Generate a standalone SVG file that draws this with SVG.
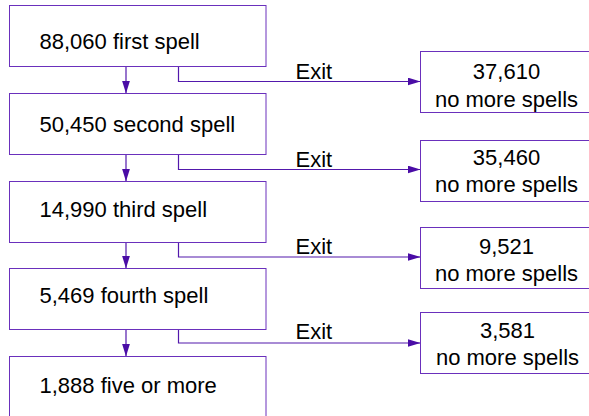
<svg xmlns="http://www.w3.org/2000/svg" width="589" height="416" viewBox="0 0 589 416">
<style>
.box{fill:#ffffff;stroke:#6a30bc;stroke-width:1}
.t{font-family:"Liberation Sans",Arial,sans-serif;font-size:22px;fill:#000000}
.c{text-anchor:middle}
.ln{fill:none;stroke:#5218ac;stroke-width:1.2}
</style>
<defs>
<marker id="ah" viewBox="0 0 13 8" refX="13" refY="4" markerWidth="13" markerHeight="8" markerUnits="userSpaceOnUse" orient="auto">
<path d="M0,0 L13,4 L0,8 z" fill="#4a0ca6"/>
</marker>
</defs>
<rect width="589" height="416" fill="#ffffff"/>
<g id="connectors">
<path class="ln" d="M126,66.5 V93.5" marker-end="url(#ah)"/>
<path class="ln" d="M126,154.5 V181.5" marker-end="url(#ah)"/>
<path class="ln" d="M126,242.5 V268.5" marker-end="url(#ah)"/>
<path class="ln" d="M126,329.5 V356.5" marker-end="url(#ah)"/>
<path class="ln" d="M178.5,66.5 V81.5 H420.5" marker-end="url(#ah)"/>
<path class="ln" d="M178.5,154.5 V169.5 H420.5" marker-end="url(#ah)"/>
<path class="ln" d="M178.5,242.5 V257 H420.5" marker-end="url(#ah)"/>
<path class="ln" d="M178.5,329.5 V343 H420.5" marker-end="url(#ah)"/>
<text class="t" x="295.5" y="78.7">Exit</text>
<text class="t" x="295.5" y="166.7">Exit</text>
<text class="t" x="295.5" y="253.5">Exit</text>
<text class="t" x="295.5" y="338.5">Exit</text>
</g>
<g id="n1"><rect class="box" x="9.5" y="5.5" width="256.5" height="61"/><text class="t" x="39.5" y="48.5">88,060 first spell</text></g>
<g id="n2"><rect class="box" x="9.5" y="93.5" width="256.5" height="61"/><text class="t" x="39.5" y="132">50,450 second spell</text></g>
<g id="n3"><rect class="box" x="9.5" y="181.5" width="256.5" height="61"/><text class="t" x="39.5" y="217">14,990 third spell</text></g>
<g id="n4"><rect class="box" x="9.5" y="268.5" width="256.5" height="61"/><text class="t" x="39.5" y="303">5,469 fourth spell</text></g>
<g id="n5"><rect class="box" x="9.5" y="356.5" width="256.5" height="70"/><text class="t" x="39.5" y="393">1,888 five or more</text></g>
<g id="e1"><rect class="box" x="420.5" y="51.5" width="180" height="61"/><text class="t c" x="506.5" y="78.7">37,610</text><text class="t c" x="506.5" y="106.5">no more spells</text></g>
<g id="e2"><rect class="box" x="420.5" y="140.5" width="180" height="61"/><text class="t c" x="506.5" y="164.5">35,460</text><text class="t c" x="506.5" y="192.3">no more spells</text></g>
<g id="e3"><rect class="box" x="420.5" y="227.5" width="180" height="61"/><text class="t c" x="506.5" y="253.7">9,521</text><text class="t c" x="506.5" y="280.7">no more spells</text></g>
<g id="e4"><rect class="box" x="420.5" y="312.5" width="180" height="61"/><text class="t c" x="507.5" y="337.7">3,581</text><text class="t c" x="507.5" y="364.7">no more spells</text></g>
</svg>
